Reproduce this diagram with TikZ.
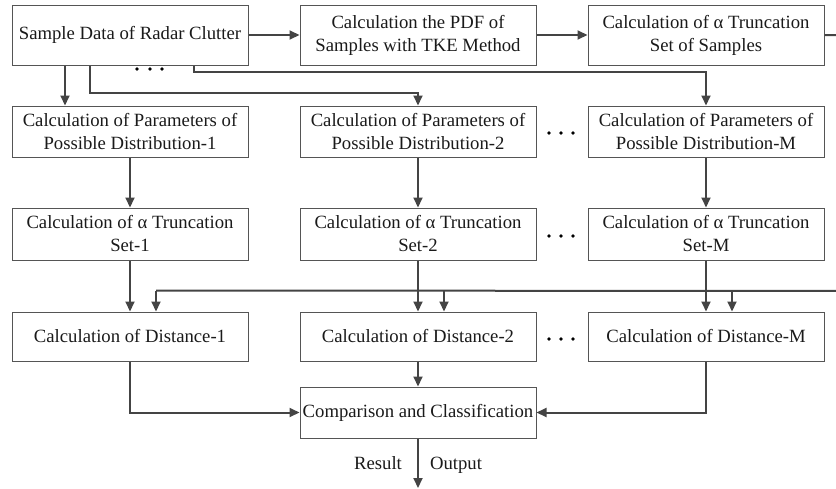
\documentclass[tikz,border=0pt]{standalone}
\usepackage{fontspec}
\setmainfont{Liberation Serif}
\usetikzlibrary{arrows.meta}
\definecolor{boxgray}{HTML}{555555}
\definecolor{linegray}{HTML}{444444}
\definecolor{textblack}{HTML}{1A1A1A}
\begin{document}
\begin{tikzpicture}[x=1pt,y=-1pt,
  box/.style={draw=boxgray, line width=1pt, minimum width=236pt, inner sep=0pt,
    align=center, font=\fontsize{18.7}{23}\selectfont, text=textblack},
  tall/.style={minimum height=60pt},
  short/.style={minimum height=51pt},
  wire/.style={draw=linegray, line width=2pt},
  conn/.style={wire, -{Triangle[length=10pt,width=9pt]}},
  lbl/.style={font=\fontsize{18.7}{23}\selectfont, text=textblack, inner sep=0pt, anchor=base},
  dotmark/.style={fill=black}]
\clip (0,0) rectangle (836,488);
% top row
\node[box, tall] (sample) at (130,35) {Sample Data of Radar Clutter};
\node[box, tall] (pdf) at (418,35) {Calculation the PDF of\\Samples with TKE Method};
\node[box, tall] (tsamp) at (706,35) {Calculation of α Truncation\\Set of Samples};
% row 2
\node[box, short] (p1) at (130,131.5) {Calculation of Parameters of\\Possible Distribution-1};
\node[box, short] (p2) at (418,131.5) {Calculation of Parameters of\\Possible Distribution-2};
\node[box, short] (pM) at (706,131.5) {Calculation of Parameters of\\Possible Distribution-M};
% row 3
\node[box, minimum height=52pt] (t1) at (130,234) {Calculation of α Truncation\\Set-1};
\node[box, minimum height=52pt] (t2) at (418,234) {Calculation of α Truncation\\Set-2};
\node[box, minimum height=52pt] (tM) at (706,234) {Calculation of α Truncation\\Set-M};
% distance row
\node[box, minimum height=49pt] (d1) at (130,336.5) {Calculation of Distance-1};
\node[box, minimum height=49pt] (d2) at (418,336.5) {Calculation of Distance-2};
\node[box, minimum height=49pt] (dM) at (706,336.5) {Calculation of Distance-M};
% comparison
\node[box, short] (comp) at (418,412.5) {Comparison and Classification};
\coordinate (out) at (418,488);
\node[lbl] (res) at (378,469) {Result};
\node[lbl] (outl) at (456,469) {Output};
% dots
\foreach \cx/\cy in {137/69,150/69,162/69,
                     549/133,561/133,573/133,
                     549/236,561/236,573/236,
                     549/339,561/339,573/339}
  \fill[dotmark] (\cx,\cy) circle (1.8);
% connectors top
\draw[conn] (sample) -- (pdf);
\draw[conn] (pdf) -- (tsamp);
\draw[conn] ([xshift=-65pt]sample.south) -- ([xshift=-65pt]p1.north);
\draw[conn] ([xshift=-40pt]sample.south) |- ([yshift=13pt]p2.north) -- (p2.north);
\draw[conn] ([xshift=64pt]sample.south) |- ([yshift=34pt]pM.north) -- (pM.north);
% columns
\foreach \i in {1,2,M} {
  \draw[conn] (p\i) -- (t\i);
  \draw[conn] (t\i) -- (d\i);
}
% feedback
\coordinate (fbR) at (850,35);
\coordinate (fbB) at (850,291);
\draw[wire] (tsamp.east) -- (fbR) -- (fbB) -- ([xshift=26pt,yshift=21pt]d1.north);
\foreach \i in {1,2,M}
  \draw[conn] ([xshift=26pt,yshift=21pt]d\i.north) -- ([xshift=26pt]d\i.north);
% to comparison
\draw[conn] (d1.south) |- (comp.west);
\draw[conn] (dM.south) |- (comp.east);
\draw[conn] (d2) -- (comp);
\draw[conn] (comp.south) -- (out);
\end{tikzpicture}
\end{document}
